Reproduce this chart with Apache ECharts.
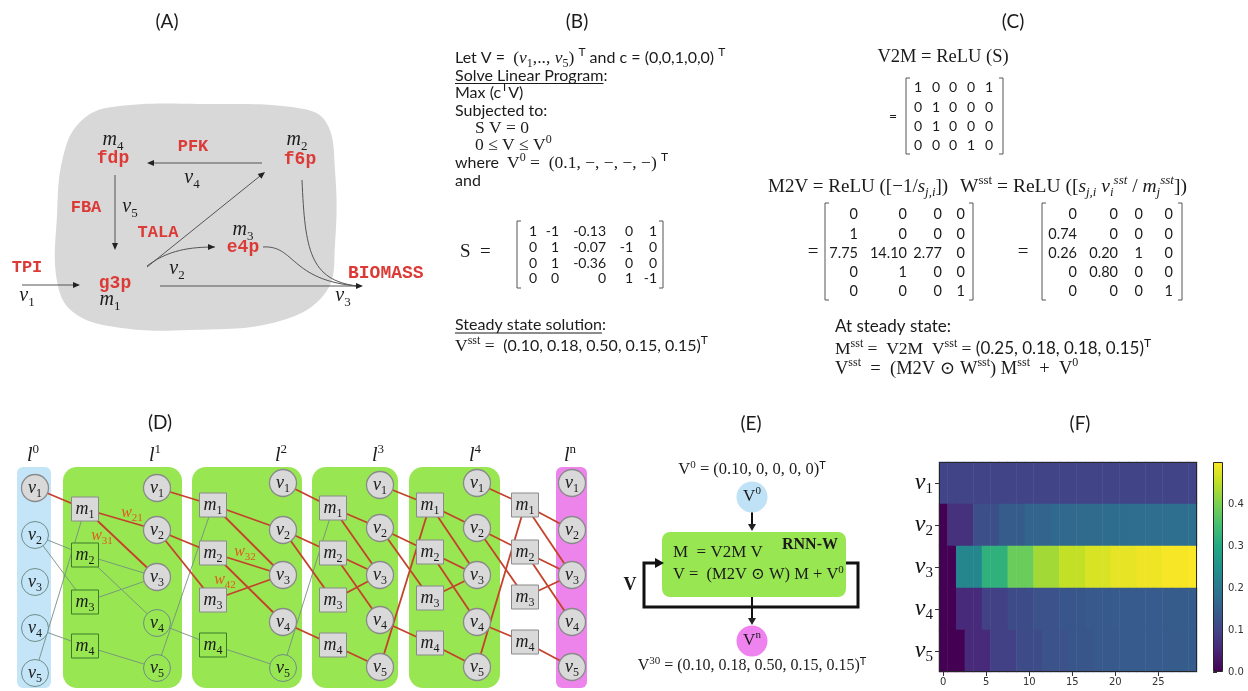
<!DOCTYPE html>
<html>
<head>
<meta charset="utf-8">
<title>Metabolic network as RNN</title>
<script src="https://cdn.jsdelivr.net/npm/echarts@6/dist/echarts.min.js"></script>
<style>
html,body{margin:0;padding:0;background:#fff;}
#chart{width:1248px;height:691px;}
</style>
</head>
<body>
<div id="chart"></div>
<script>
// ---------------- data ----------------
// Flux of each reaction over the 30 RNN iterations (panel F)
const reactionIds = ['1', '2', '3', '4', '5'];
const stepLabels = ['0','1','2','3','4','5','6','7','8','9','10','11','12','13','14','15','16','17','18','19','20','21','22','23','24','25','26','27','28','29'];
const fluxV1 = [0.10,0.10,0.10,0.10,0.10,0.10,0.10,0.10,0.10,0.10,0.10,0.10,0.10,0.10,0.10,0.10,0.10,0.10,0.10,0.10,0.10,0.10,0.10,0.10,0.10,0.10,0.10,0.10,0.10,0.10];
const fluxV2 = [0.00,0.07,0.07,0.07,0.12,0.12,0.12,0.145,0.145,0.145,0.16,0.16,0.16,0.168,0.168,0.168,0.173,0.173,0.173,0.177,0.177,0.177,0.179,0.179,0.179,0.18,0.18,0.18,0.18,0.18];
const fluxV3 = [0.00,0.00,0.23,0.23,0.23,0.32,0.32,0.32,0.385,0.385,0.385,0.43,0.43,0.43,0.455,0.455,0.455,0.472,0.472,0.472,0.483,0.483,0.483,0.49,0.49,0.49,0.495,0.495,0.495,0.498];
const fluxV4 = [0.00,0.00,0.06,0.06,0.06,0.095,0.095,0.095,0.115,0.115,0.115,0.127,0.127,0.127,0.134,0.134,0.134,0.139,0.139,0.139,0.142,0.142,0.142,0.143,0.143,0.143,0.144,0.144,0.144,0.145];
const fluxV5 = [0.00,0.00,0.00,0.06,0.06,0.06,0.095,0.095,0.095,0.115,0.115,0.115,0.127,0.127,0.127,0.134,0.134,0.134,0.139,0.139,0.139,0.142,0.142,0.142,0.143,0.143,0.143,0.144,0.144,0.144];
const colorbarTicks = [0, 0.1, 0.2, 0.3, 0.4];

// Network matrices (panels B, C)
const S    = [[1,-1,-0.13,0,1],[0,1,-0.07,-1,0],[0,1,-0.36,0,0],[0,0,0,1,-1]];
const V2M  = [[1,0,0,0,1],[0,1,0,0,0],[0,1,0,0,0],[0,0,0,1,0]];
const M2V  = [[0,0,0,0],[1,0,0,0],[7.75,14.10,2.77,0],[0,1,0,0],[0,0,0,1]];
const Wsst = [[0,0,0,0],[0.74,0,0,0],[0.26,0.20,1,0],[0,0.80,0,0],[0,0,0,1]];
const V0   = [0.10,0,0,0,0];
const Vsst = [0.10,0.18,0.50,0.15,0.15];
const Msst = [0.25,0.18,0.18,0.15];
const V30  = [0.10,0.18,0.50,0.15,0.15];

// ---------------- styles ----------------
const SANS = 'Lato, "Open Sans", "Noto Sans", sans-serif';
const SERIF = '"Liberation Serif", "DejaVu Serif", serif';
const MONO = '"Liberation Mono", "DejaVu Sans Mono", monospace';
const INK = '#1b1b1b', RED = '#dc3a36', ORANGE = '#e4561e';
const BLUE = '#c4e5f8', GREEN = '#98e652', PINK = '#ec84ec', NODE = '#d9d9d9';
const EDGE_ON = '#c4422b', EDGE_OFF = '#768f80';
const VIRIDIS = ['#440154','#482475','#414487','#355f8d','#2a788e','#21918c','#22a884','#44bf70','#7ad151','#bddf26','#fde725'];
const HM = {left: 939, top: 462, width: 258, height: 210};
const CB = {left: 1213, top: 462, width: 10, height: 210};

// ---------------- drawing helpers ----------------
const G = [];
const mctx = document.createElement('canvas').getContext('2d');
function textW(str, fs, fam) { mctx.font = fs + 'px ' + fam; return mctx.measureText(str).width; }

// rich-text styles: n sans, m serif, i italic serif, k bold serif, r red mono,
// b/bi subscript, p/pi/ps superscript
function richSet(fs, color, ms) {
  const mf = ms || fs;
  const L = Math.round(Math.max(fs, mf) * 1.3);
  const base = (fam, size, extra) => Object.assign({fontFamily: fam, fontSize: size, lineHeight: L, fill: color, verticalAlign: 'middle'}, extra || {});
  const s = Math.round(mf * 0.66);
  const small = (fam, va, extra) => Object.assign({fontFamily: fam, fontSize: s, lineHeight: s, fill: color, verticalAlign: va}, extra || {});
  return {
    n: base(SANS, fs), m: base(SERIF, mf), i: base(SERIF, mf, {fontStyle: 'italic'}), k: base(SERIF, mf, {fontWeight: 'bold'}),
    r: base(MONO, fs, {fontWeight: 'bold', fill: RED}),
    b: small(SERIF, 'bottom'), bi: small(SERIF, 'bottom', {fontStyle: 'italic'}),
    p: small(SERIF, 'top'), pi: small(SERIF, 'top', {fontStyle: 'italic'}), ps: small(SANS, 'top')
  };
}
function T(x, y, segs, o) {
  o = o || {};
  const text = segs.map(sg => { const k = sg.indexOf(':'); return '{' + sg.slice(0, k) + '|' + sg.slice(k + 1) + '}'; }).join('');
  G.push({type: 'text', x: x, y: y, z: o.z || 5, silent: true,
    style: {text: text, rich: richSet(o.fs || 15, o.color || INK, o.ms), textAlign: o.align || 'left', textVerticalAlign: 'middle'}});
}
function L(x1, y1, x2, y2, c, w, z) {
  G.push({type: 'line', z: z || 2, silent: true, shape: {x1: x1, y1: y1, x2: x2, y2: y2}, style: {stroke: c, lineWidth: w, fill: 'none'}});
}
function head(tx, ty, ang, len, half, c, z) {
  const ux = Math.cos(ang), uy = Math.sin(ang), bx = tx - ux * len, by = ty - uy * len;
  G.push({type: 'polygon', z: z || 3, silent: true,
    shape: {points: [[tx, ty], [bx - uy * half, by + ux * half], [bx + uy * half, by - ux * half]]}, style: {fill: c}});
}
function arrow(x1, y1, x2, y2, o) {
  o = o || {};
  const len = o.len || 7, half = o.half || 3, c = o.color || '#555', w = o.w || 1;
  const a = Math.atan2(y2 - y1, x2 - x1);
  L(x1, y1, x2 - Math.cos(a) * len * 0.8, y2 - Math.sin(a) * len * 0.8, c, w);
  head(x2, y2, a, len, half, o.headColor || '#222');
}
function curve(p0, c1, c2, p1, o) {
  o = o || {};
  G.push({type: 'bezierCurve', z: 2, silent: true,
    shape: {x1: p0[0], y1: p0[1], cpx1: c1[0], cpy1: c1[1], cpx2: c2[0], cpy2: c2[1], x2: p1[0], y2: p1[1]},
    style: {stroke: o.color || '#555', lineWidth: o.w || 1, fill: 'none'}});
  if (o.head) head(p1[0], p1[1], Math.atan2(p1[1] - c2[1], p1[0] - c2[0]), 7, 3, '#222');
}
function circ(cx, cy, r, fill, stroke, w, z) {
  G.push({type: 'circle', z: z || 3, silent: true, shape: {cx: cx, cy: cy, r: r}, style: {fill: fill, stroke: stroke || 'none', lineWidth: w || 1}});
}
function box(x, y, w, h, r, fill, stroke, lw, z) {
  G.push({type: 'rect', z: z || 1, silent: true, shape: {x: x, y: y, width: w, height: h, r: r}, style: {fill: fill, stroke: stroke || 'none', lineWidth: lw || 1}});
}
function bracket(x1, x2, y1, y2) {
  G.push({type: 'polyline', z: 4, silent: true, shape: {points: [[x1 + 4, y1], [x1, y1], [x1, y2], [x1 + 4, y2]]}, style: {stroke: '#555', lineWidth: 1, fill: 'none'}});
  G.push({type: 'polyline', z: 4, silent: true, shape: {points: [[x2 - 4, y1], [x2, y1], [x2, y2], [x2 - 4, y2]]}, style: {stroke: '#555', lineWidth: 1, fill: 'none'}});
}
const fmt = v => v === 0 ? '0' : (Number.isInteger(v) ? String(v) : v.toFixed(2));
function matrix(M, colRight, rowY, fs, align) {
  M.forEach((row, r) => row.forEach((v, c) => {
    T(colRight[c], rowY[r], ['n:' + fmt(v)], {fs: fs, align: align || 'right'});
  }));
}

// ---------------- panel A: reaction network ----------------
T(167, 22, ['n:(A)'], {fs: 19, align: 'center'});
G.push({type: 'polygon', z: 0, silent: true, style: {fill: '#d8d8d8'},
  shape: {smooth: 0.4, points: [[112,107],[210,104],[298,108],[326,122],[335,170],[335,245],[326,292],[280,321],[190,330],[115,327],[73,312],[57,281],[57,215],[63,157],[80,122]]}});
T(113, 140, ['i:m', 'b:4'], {fs: 20, align: 'center'});
T(113, 158, ['r:fdp'], {fs: 18, align: 'center'});
T(193, 147, ['r:PFK'], {fs: 17, align: 'center'});
T(297, 140, ['i:m', 'b:2'], {fs: 20, align: 'center'});
T(300, 159, ['r:f6p'], {fs: 18, align: 'center'});
arrow(262, 163, 147, 163);
T(192, 178, ['i:v', 'b:4'], {fs: 20, align: 'center'});
T(86, 208, ['r:FBA'], {fs: 17, align: 'center'});
T(130, 207, ['i:v', 'b:5'], {fs: 20, align: 'center'});
arrow(115, 175, 115, 250);
T(158, 233, ['r:TALA'], {fs: 17, align: 'center'});
T(243, 230, ['i:m', 'b:3'], {fs: 20, align: 'center'});
T(243, 247, ['r:e4p'], {fs: 18, align: 'center'});
arrow(147, 267, 265, 172);
curve([147, 266], [168, 250], [190, 247], [215, 247], {head: true});
T(177, 269, ['i:v', 'b:2'], {fs: 20, align: 'center'});
T(27, 268, ['r:TPI'], {fs: 17, align: 'center'});
arrow(22, 285, 80, 285);
T(27, 296, ['i:v', 'b:1'], {fs: 20, align: 'center'});
T(115, 283, ['r:g3p'], {fs: 18, align: 'center'});
T(110, 300, ['i:m', 'b:1'], {fs: 20, align: 'center'});
arrow(160, 286, 363, 286);
T(348, 273, ['r:BIOMASS'], {fs: 18});
T(343, 296, ['i:v', 'b:3'], {fs: 20, align: 'center'});
curve([263, 247], [295, 245], [290, 280], [357, 286]);
curve([302, 180], [305, 250], [310, 280], [357, 286]);

// ---------------- panel B: linear program ----------------
T(577, 22, ['n:(B)'], {fs: 19, align: 'center'});
const BX = 455, BF = 16, BM = 17.5, BY = [58, 75.5, 93, 110.5, 128, 145.5, 163, 180.5];
T(BX, BY[0], ['n:Let V =  ', 'm:(', 'i:v', 'b:1', 'm:,.., ', 'i:v', 'b:5', 'm:)', 'n: ', 'ps:T', 'n: and c = (0,0,1,0,0) ', 'ps:T'], {fs: BF, ms: BM});
T(BX, BY[1], ['n:Solve Linear Program:'], {fs: BF});
L(BX, BY[1] + 8, BX + textW('Solve Linear Program', BF, SANS), BY[1] + 8, INK, 1);
T(BX, BY[2], ['n:Max (c', 'ps:T', 'n:V)'], {fs: BF, ms: BM});
T(BX, BY[3], ['n:Subjected to:'], {fs: BF});
T(BX + 20, BY[4], ['m:S V = 0'], {fs: BM});
T(BX + 20, BY[5], ['m:0 ≤ V ≤ V', 'p:0'], {fs: BM});
T(BX, BY[6], ['n:where  ', 'm:V', 'p:0', 'm: =  (0.1, −, −, −, −) ', 'ps:T'], {fs: BF, ms: BM});
T(BX, BY[7], ['n:and'], {fs: BF});
T(BX + 5, 252, ['m:S  ='], {fs: 19});
bracket(517, 663, 221, 288);
matrix(S, [537, 559, 606, 633, 657], [231, 247, 263, 278], 14);
T(BX, 325, ['n:Steady state solution:'], {fs: BF});
L(BX, 333, BX + textW('Steady state solution', BF, SANS), 333, INK, 1);
T(BX, 346, ['m:V', 'p:sst', 'm: =  ', 'n:(' + Vsst.map(v => v.toFixed(2)).join(', ') + ')', 'ps:T'], {fs: BF, ms: BM});

// ---------------- panel C: RNN weights ----------------
T(1013, 22, ['n:(C)'], {fs: 19, align: 'center'});
T(943, 57, ['m:V2M = ReLU (S)'], {fs: 18.5, align: 'center'});
T(893, 116, ['n:='], {fs: 14, align: 'center'});
bracket(906, 1003, 78, 154);
matrix(V2M, [922, 940, 957, 975, 993], [87, 107, 126, 145], 14);
T(768, 187, ['m:M2V = ReLU ([−1/', 'i:s', 'bi:j,i', 'm:])'], {fs: 19});
T(960, 187, ['m:W', 'p:sst', 'm: = ReLU ([', 'i:s', 'bi:j,i', 'i: v', 'bi:i', 'pi:sst', 'm: / ', 'i:m', 'bi:j', 'pi:sst', 'm:])'], {fs: 19.5});
T(813, 252, ['m:='], {fs: 19, align: 'center'});
bracket(825, 973, 203, 300);
matrix(M2V, [858, 907, 942, 965], [214, 234, 253, 272, 291], 14.5);
T(1023, 252, ['m:='], {fs: 19, align: 'center'});
bracket(1042, 1182, 203, 300);
matrix(Wsst, [1077, 1118, 1143, 1173], [214, 234, 253, 272, 291], 14.5);
T(835, 327, ['n:At steady state:'], {fs: 17});
T(835, 349, ['m:M', 'p:sst', 'm: =  V2M  V', 'p:sst', 'm: = ', 'n:(' + Msst.map(v => v.toFixed(2)).join(', ') + ')', 'ps:T'], {fs: 17, ms: 17.5});
T(835, 369, ['m:V', 'p:sst', 'm:  =  (M2V ⊙ W', 'p:sst', 'm:) M', 'p:sst', 'm:  +  V', 'p:0'], {fs: 18.5});

// ---------------- panel D: unrolled layers ----------------
T(160, 423, ['n:(D)'], {fs: 19, align: 'center'});
const D_TOP = 467, D_BOT = 688;
const dLayers = [
  {bg: [17, 51], fill: BLUE, r: 6, tag: '0', vx: 35, vy: [488, 535, 582, 628, 673]},
  {bg: [63, 182], fill: GREEN, r: 14, tag: '1', mx: 85, my: [509, 555, 602, 646], vx: 157, vy: [488, 530, 577, 623, 668]},
  {bg: [192, 302], fill: GREEN, r: 14, tag: '2', mx: 213, my: [505, 553, 600, 645], vx: 283, vy: [483, 530, 575, 622, 668]},
  {bg: [312, 398], fill: GREEN, r: 14, tag: '3', mx: 333, my: [508, 553, 600, 645], vx: 380, vy: [485, 528, 575, 620, 667]},
  {bg: [409, 500], fill: GREEN, r: 14, tag: '4', mx: 430, my: [505, 552, 598, 643], vx: 477, vy: [483, 528, 575, 622, 667]},
  {bg: [556, 587], fill: PINK, r: 6, tag: 'n', mx: 525, my: [505, 552, 597, 642], vx: 572, vy: [483, 530, 575, 622, 667], mFill: '#fff'}
];
// which nodes carry flux after each unrolled step
dLayers[0].vAct = V0.map(v => v > 0);
for (let k = 1; k < dLayers.length; k++) {
  const prev = dLayers[k - 1].vAct;
  const mAct = V2M.map(row => row.some((a, i) => a > 0 && prev[i]));
  dLayers[k].mAct = mAct;
  dLayers[k].vAct = V0.map((v0, i) => v0 > 0 || M2V[i].some((a, j) => a > 0 && mAct[j]));
}
dLayers.forEach(ly => box(ly.bg[0], D_TOP, ly.bg[1] - ly.bg[0], D_BOT - D_TOP, ly.r, ly.fill, null, 1, 1));
for (let k = 1; k < dLayers.length; k++) {
  const ly = dLayers[k], pv = dLayers[k - 1];
  V2M.forEach((row, j) => row.forEach((a, i) => {
    if (a > 0) { const on = pv.vAct[i]; L(pv.vx, pv.vy[i], ly.mx, ly.my[j], on ? EDGE_ON : EDGE_OFF, on ? 1.8 : 0.9, 2); }
  }));
  M2V.forEach((row, i) => row.forEach((a, j) => {
    if (a > 0) { const on = ly.mAct[j]; L(ly.mx, ly.my[j], ly.vx, ly.vy[i], on ? EDGE_ON : EDGE_OFF, on ? 1.8 : 0.9, 2); }
  }));
}
dLayers.forEach(ly => {
  T(ly.vx - 2, 456, ['i:l', 'p:' + ly.tag], {fs: 20, align: 'center'});
  ly.vy.forEach((y, i) => {
    const on = ly.vAct[i];
    circ(ly.vx, y, 13.5, on ? NODE : ly.fill, on ? '#8a8a8a' : '#6f8d88', on ? 1.3 : 1, 3);
    T(ly.vx, y, ['i:v', 'b:' + reactionIds[i]], {fs: 18, align: 'center'});
  });
  if (ly.my) ly.my.forEach((y, j) => {
    const on = ly.mAct[j];
    box(ly.mx - 13.5, y - 12, 27, 24, 0, on ? NODE : (ly.mFill || ly.fill), on ? '#8a8a8a' : '#3d7a2a', 1, 3);
    T(ly.mx, y, ['i:m', 'b:' + (j + 1)], {fs: 18, align: 'center'});
  });
});
T(132, 513, ['i:w', 'b:21'], {fs: 16, color: ORANGE, align: 'center'});
T(102, 536, ['i:w', 'b:31'], {fs: 16, color: ORANGE, align: 'center'});
T(245, 552, ['i:w', 'b:32'], {fs: 16, color: ORANGE, align: 'center'});
T(225, 580, ['i:w', 'b:42'], {fs: 16, color: ORANGE, align: 'center'});

// ---------------- panel E: recurrent cell ----------------
T(751, 424, ['n:(E)'], {fs: 19, align: 'center'});
T(752, 470, ['m:V', 'p:0', 'm: = (' + V0.map(fmt).join(', ') + ')', 'ps:T'], {fs: 16.5, align: 'center'});
circ(752, 497, 15.5, '#bfe2f6', null, 1, 3);
T(752, 497, ['m:V', 'p:0'], {fs: 17, align: 'center'});
arrow(752, 512, 752, 531, {color: '#111', w: 2, len: 7, half: 4});
box(662, 532, 184, 65, 8, GREEN, null, 1, 1);
T(810, 545, ['k:RNN-W'], {fs: 16, align: 'center'});
T(673, 553, ['m:M  = V2M V'], {fs: 17});
T(673, 575, ['m:V =  (M2V ⊙ W) M + V', 'p:0'], {fs: 16.5});
G.push({type: 'polyline', z: 2, silent: true, shape: {points: [[846, 563], [858, 563], [858, 607], [644, 607], [644, 563], [656, 563]]}, style: {stroke: '#111', lineWidth: 3, fill: 'none'}});
head(664, 563, 0, 9, 5, '#111');
T(630, 585, ['k:V'], {fs: 18, align: 'center'});
arrow(752, 597, 752, 625, {color: '#111', w: 2, len: 7, half: 4});
circ(752, 641, 15.5, '#ee82ee', null, 1, 3);
T(752, 641, ['m:V', 'p:n'], {fs: 17, align: 'center'});
T(752, 666, ['m:V', 'p:30', 'm: = (' + V30.map(v => v.toFixed(2)).join(', ') + ')', 'ps:T'], {fs: 16, align: 'center'});

// ---------------- panel F: flux heatmap ----------------
T(1080, 424, ['n:(F)'], {fs: 19, align: 'center'});
const fluxRows = [fluxV1, fluxV2, fluxV3, fluxV4, fluxV5];
const heatData = [];
fluxRows.forEach((row, r) => row.forEach((v, c) => heatData.push([c, r, v])));
// frames drawn above the cells
G.push({type: 'rect', z: 100, silent: true, shape: {x: HM.left + 0.5, y: HM.top + 0.5, width: HM.width - 1, height: HM.height - 1}, style: {fill: 'none', stroke: '#262626', lineWidth: 1}});
G.push({type: 'rect', z: 100, silent: true, shape: {x: CB.left + 0.5, y: CB.top + 0.5, width: CB.width - 1, height: CB.height - 1}, style: {fill: 'none', stroke: '#262626', lineWidth: 1}});

const chart = echarts.init(document.getElementById('chart'), null, {renderer: 'canvas'});
chart.setOption({
  animation: false,
  backgroundColor: '#ffffff',
  grid: [
    {left: HM.left, top: HM.top, width: HM.width, height: HM.height, show: false},
    {left: CB.left, top: CB.top, width: CB.width, height: CB.height, show: false}
  ],
  xAxis: [
    {type: 'category', gridIndex: 0, data: stepLabels, boundaryGap: true,
     axisLine: {show: false},
     axisTick: {show: true, alignWithLabel: true, interval: i => i % 5 === 0, length: 4, lineStyle: {color: '#333'}},
     axisLabel: {interval: i => i % 5 === 0, fontFamily: '"DejaVu Sans", sans-serif', fontSize: 10, color: '#333', margin: 5},
     splitLine: {show: false}},
    {type: 'value', gridIndex: 1, show: false, min: 0, max: 1}
  ],
  yAxis: [
    {type: 'category', gridIndex: 0, inverse: true, data: reactionIds,
     axisLine: {show: false},
     axisTick: {show: true, alignWithLabel: true, length: 4, lineStyle: {color: '#333'}},
     axisLabel: {margin: 6, formatter: id => '{v|v}{s|' + id + '}',
       rich: {v: {fontFamily: SERIF, fontStyle: 'italic', fontSize: 24, color: '#111', lineHeight: 28, verticalAlign: 'middle'},
              s: {fontFamily: SERIF, fontSize: 15, color: '#111', lineHeight: 15, verticalAlign: 'bottom'}}},
     splitLine: {show: false}},
    {type: 'value', gridIndex: 1, position: 'right', min: 0, max: 0.5, interval: 0.1,
     axisLine: {show: false},
     axisTick: {show: true, length: 4, lineStyle: {color: '#333'}},
     axisLabel: {showMaxLabel: false, formatter: v => colorbarTicks.indexOf(Math.round(v * 10) / 10) >= 0 ? v.toFixed(1) : '',
       fontFamily: '"DejaVu Sans", sans-serif', fontSize: 10, color: '#333', margin: 5},
     splitLine: {show: false}}
  ],
  visualMap: {
    type: 'continuous', min: 0, max: 0.5, seriesIndex: 0, calculable: false, orient: 'vertical',
    left: CB.left, top: CB.top, itemWidth: CB.width, itemHeight: CB.height, padding: 0,
    inRange: {color: VIRIDIS}, hoverLink: false
  },
  series: [{
    type: 'heatmap', xAxisIndex: 0, yAxisIndex: 0, data: heatData,
    itemStyle: {borderWidth: 0}, emphasis: {disabled: true}, progressive: 0
  }],
  graphic: {elements: G}
});
</script>
</body>
</html>
